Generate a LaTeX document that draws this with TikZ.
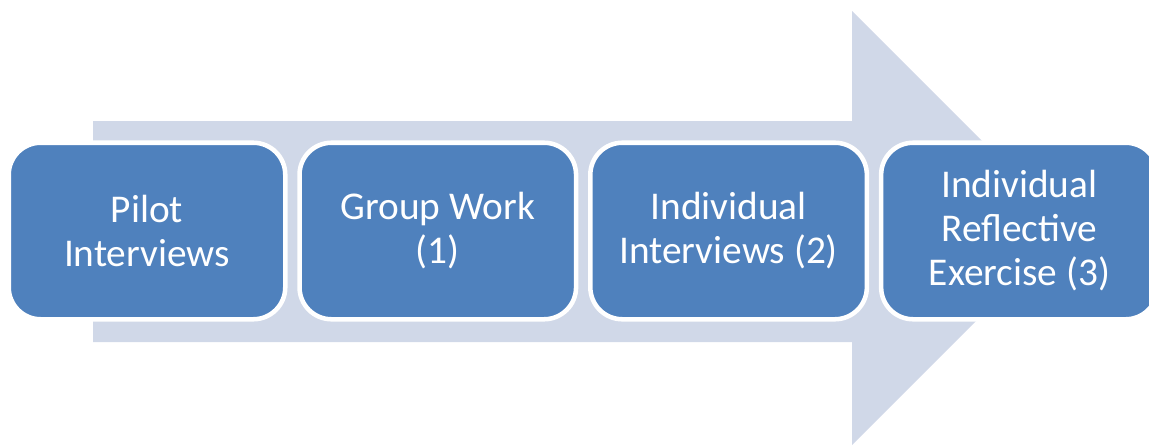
\documentclass[tikz,border=0pt]{standalone}
\usepackage{fontspec}
\setmainfont{Carlito}
\usetikzlibrary{positioning}
\definecolor{stepblue}{RGB}{79,129,189}
\definecolor{arrowgrey}{RGB}{208,216,232}

\begin{document}
\begin{tikzpicture}[x=0.75pt,y=-0.75pt,
            node distance = 7.3pt,
            box/.style = {draw=white,line width=3.4pt,fill=stepblue,
                rounded corners=24pt,align=center,text=white,
                minimum width=207.4pt,minimum height=132.4pt,
                font=\fontsize{29.5}{33}\selectfont}]
            \useasboundingbox (0,0) rectangle (1149,447);
            % big arrow behind the steps
            \fill[arrowgrey] (93,121) -- (852,121) -- (852,11) -- (1069,228)
                -- (852,445) -- (852,342) -- (93,342) -- cycle;
            \node[box] (pilot) at (147,231) {Pilot\\Interviews};
            \node[box,right=of pilot] (group) {Group Work\\(1)};
            \node[box,right=of group] (indiv) {Individual\\Interviews (2)};
            % kern keeps t and i apart
            \node[box,right=of indiv] (reflect) {Individual\\Reflec\kern0pt tive\\Exercise (3)};
        \end{tikzpicture}
\end{document}
